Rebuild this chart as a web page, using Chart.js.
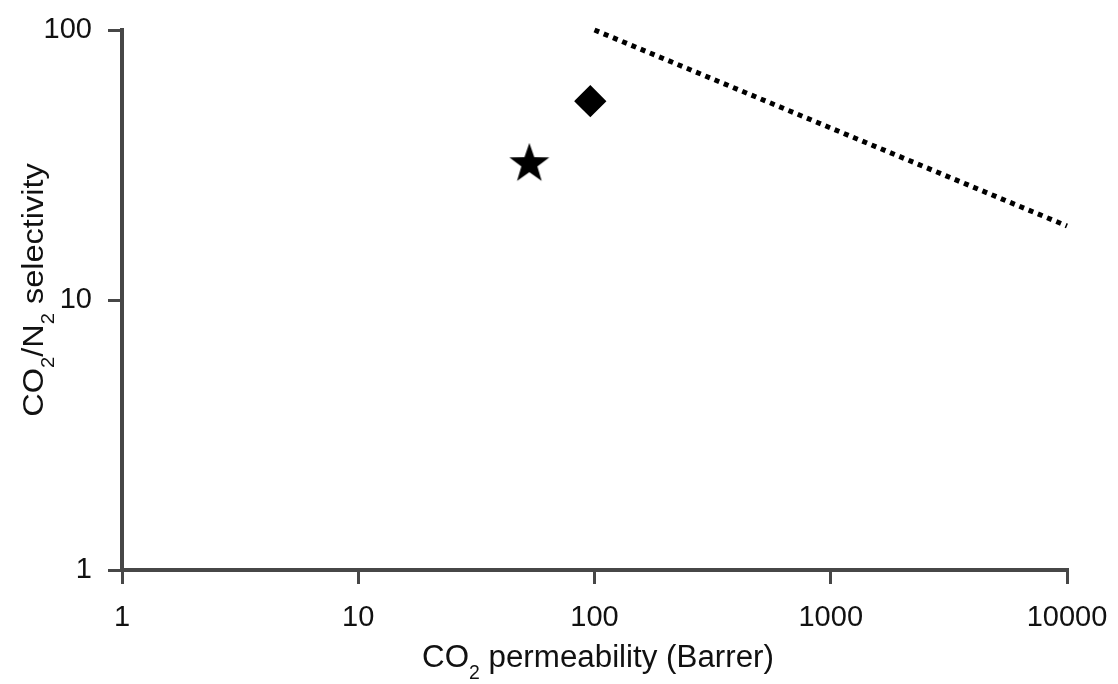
<!DOCTYPE html>
<html>
<head>
<meta charset="utf-8">
<script src="https://cdn.jsdelivr.net/npm/chart.js@4/dist/chart.umd.min.js"></script>
<style>
  body { margin: 0; background: #fff; }
</style>
</head>
<body>
<canvas id="myChart" width="1118" height="684"></canvas>
<script>
// data
const starX = [53];
const starY = [32.4];
const diamondX = [96];
const diamondY = [54.5];
const boundX = [100, 10000];
const boundY = [100, 18.8];
const xTicks = [1, 10, 100, 1000, 10000];
const yTicks = [1, 10, 100];

const FONT = '"Liberation Sans", Arial, sans-serif';
const axisColor = '#474747';

// filled five point star for the point style
function makeStar(size) {
  const c = document.createElement('canvas');
  c.width = size; c.height = size;
  const g = c.getContext('2d');
  const cx = size / 2, cy = size / 2 + size * 0.04;
  const outer = size / 2, inner = outer * 0.4;
  g.beginPath();
  for (let i = 0; i < 10; i++) {
    const r = i % 2 === 0 ? outer : inner;
    const a = -Math.PI / 2 + i * Math.PI / 5;
    g.lineTo(cx + r * Math.cos(a), cy + r * Math.sin(a));
  }
  g.closePath();
  g.fillStyle = '#000';
  g.fill();
  return c;
}

// axis titles with subscripts (text in the original is a bit stretched)
const titles = {
  id: 'titles',
  afterDraw(chart) {
    const ctx = chart.ctx;
    const big = '29px ' + FONT, small = '18px ' + FONT;
    function width(list) {
      let w = 0;
      list.forEach(p => { ctx.font = p[1] ? small : big; w += ctx.measureText(p[0]).width; });
      return w;
    }
    function draw(list, x, y) {
      list.forEach(p => {
        ctx.font = p[1] ? small : big;
        ctx.fillText(p[0], x, y + (p[1] ? 11 : 0));
        x += ctx.measureText(p[0]).width;
      });
    }
    ctx.save();
    ctx.fillStyle = '#111';
    ctx.textBaseline = 'alphabetic';
    ctx.textAlign = 'left';

    const xt = [['CO', 0], ['2', 1], [' permeability (Barrer)', 0]];
    const xw = width(xt);
    ctx.save();
    ctx.translate(598, 667);
    ctx.scale(1.08, 1.1);
    draw(xt, -xw / 2, 0);
    ctx.restore();

    const yt = [['CO', 0], ['2', 1], ['/N', 0], ['2', 1], [' selectivity', 0]];
    const yw = width(yt);
    ctx.save();
    ctx.translate(43, 290);
    ctx.rotate(-Math.PI / 2);
    ctx.scale(1.12, 1.0);
    draw(yt, -yw / 2, 0);
    ctx.restore();

    ctx.restore();
  }
};

new Chart(document.getElementById('myChart').getContext('2d'), {
  type: 'scatter',
  data: {
    datasets: [
      {
        label: 'bound',
        type: 'line',
        data: boundX.map((x, i) => ({ x: x, y: boundY[i] })),
        borderColor: '#000',
        borderWidth: 5,
        borderDash: [5, 5],
        borderCapStyle: 'butt',
        pointRadius: 0,
        fill: false,
        clip: false
      },
      {
        label: 'star',
        data: starX.map((x, i) => ({ x: x, y: starY[i] })),
        pointStyle: makeStar(42),
        clip: false
      },
      {
        label: 'diamond',
        data: diamondX.map((x, i) => ({ x: x, y: diamondY[i] })),
        pointStyle: 'rectRot',
        pointRadius: 14,
        backgroundColor: '#000',
        borderColor: '#000',
        borderWidth: 3,
        clip: false
      }
    ]
  },
  options: {
    responsive: false,
    animation: false,
    layout: { padding: { top: 30, right: 51, left: 0, bottom: 0 } },
    plugins: { legend: { display: false }, tooltip: { enabled: false } },
    scales: {
      x: {
        type: 'logarithmic',
        min: 1,
        max: 10000,
        afterBuildTicks: s => { s.ticks = xTicks.map(v => ({ value: v })); },
        afterFit: s => { s.height = 114; s.paddingLeft = 0; s.paddingRight = 0; },
        border: { display: true, color: axisColor, width: 4 },
        grid: { drawOnChartArea: false, drawTicks: true, tickLength: 14, color: axisColor, lineWidth: 3 },
        ticks: {
          callback: v => String(v),
          color: '#111',
          font: { family: FONT, size: 29 },
          padding: 17,
          maxRotation: 0
        }
      },
      y: {
        type: 'logarithmic',
        min: 1,
        max: 100,
        afterBuildTicks: s => { s.ticks = yTicks.map(v => ({ value: v })); },
        afterFit: s => { s.width = 122; s.paddingTop = 0; s.paddingBottom = 0; },
        border: { display: true, color: axisColor, width: 4 },
        grid: { drawOnChartArea: false, drawTicks: true, tickLength: 14, color: axisColor, lineWidth: 3 },
        ticks: {
          callback: v => String(v),
          color: '#111',
          font: { family: FONT, size: 29 },
          padding: 16
        }
      }
    }
  },
  plugins: [titles]
});
</script>
</body>
</html>
